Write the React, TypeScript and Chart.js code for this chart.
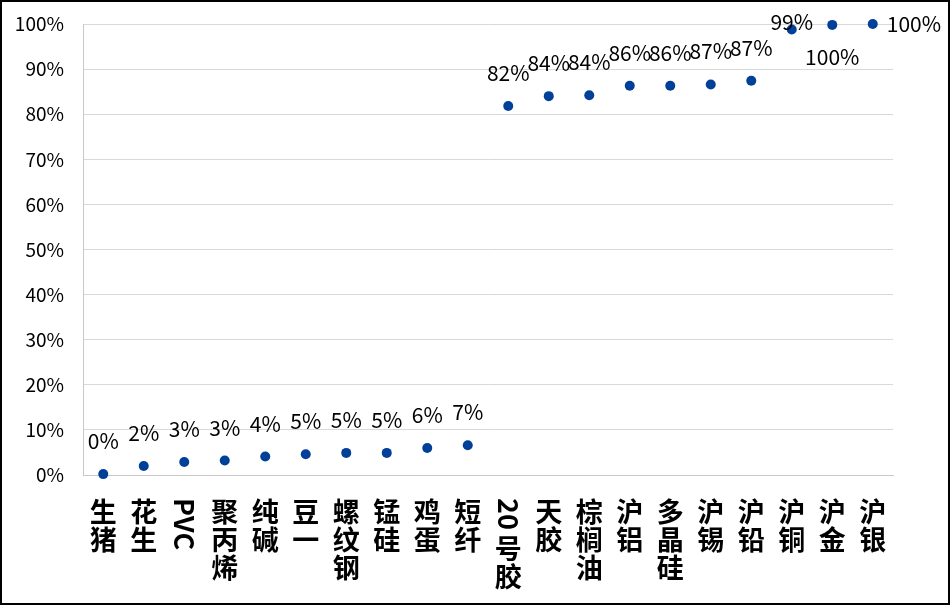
import React, { useEffect, useRef } from 'react';
import { Chart, registerables } from 'chart.js';

Chart.register(...registerables);

const categories = ['生猪', '花生', 'PVC', '聚丙烯', '纯碱', '豆一', '螺纹钢', '锰硅', '鸡蛋', '短纤', '20号胶', '天胶', '棕榈油', '沪铝', '多晶硅', '沪锡', '沪铅', '沪铜', '沪金', '沪银'];
const values = [0.2, 2.0, 2.9, 3.2, 4.1, 4.6, 4.9, 4.9, 6.0, 6.6, 81.8, 84.0, 84.2, 86.3, 86.3, 86.6, 87.4, 98.8, 99.8, 100];
const yMin = 0;
const yMax = 100;
const yStep = 10;

const CJK = '"Noto Sans CJK SC", "Noto Sans", sans-serif';
const POINT_COLOR = '#004098';

// label placement exceptions (where labels would overlap)
const labelPlacement: Record<string, string> = { '沪铜': 'over', '沪金': 'below', '沪银': 'right' };

const xLabelPlugin = {
  id: 'xLabels',
  afterDraw(chart: any) {
    const ctx = chart.ctx;
    const xs = chart.scales.x;
    const LINE = 28;
    ctx.save();
    ctx.fillStyle = '#000';
    ctx.font = `bold 27px ${CJK}`;
    categories.forEach((lab, i) => {
      const cx = xs.getPixelForValue(i);
      let y = chart.chartArea.bottom + 23;
      const segs: string[] = [];
      let run = '';
      for (const ch of lab) {
        if (/[A-Za-z0-9]/.test(ch)) {
          run += ch;
        } else {
          if (run) { segs.push(run); run = ''; }
          segs.push(ch);
        }
      }
      if (run) segs.push(run);
      segs.forEach((s) => {
        if (/^[A-Za-z0-9]+$/.test(s)) {
          const w = ctx.measureText(s).width;
          ctx.save();
          ctx.translate(cx, y + w / 2);
          ctx.rotate(Math.PI / 2);
          ctx.textAlign = 'center';
          ctx.textBaseline = 'middle';
          ctx.fillText(s, 0, 0);
          ctx.restore();
          y += w + 5;
        } else {
          ctx.textAlign = 'center';
          ctx.textBaseline = 'middle';
          ctx.fillText(s, cx, y + LINE / 2);
          y += LINE;
        }
      });
    });
    ctx.restore();
  },
};

const dataLabelPlugin = {
  id: 'dataLabels',
  afterDatasetsDraw(chart: any) {
    const ctx = chart.ctx;
    const meta = chart.getDatasetMeta(0);
    ctx.save();
    ctx.fillStyle = '#000';
    ctx.font = `21px ${CJK}`;
    ctx.textBaseline = 'alphabetic';
    meta.data.forEach((pt: any, i: number) => {
      const text = Math.round(values[i]) + '%';
      const place = labelPlacement[categories[i]] || 'above';
      const { x, y } = pt;
      if (place === 'over') {
        ctx.textAlign = 'center';
        ctx.fillText(text, x, y + 1);
      } else if (place === 'below') {
        ctx.textAlign = 'center';
        ctx.fillText(text, x, y + 40);
      } else if (place === 'right') {
        ctx.textAlign = 'left';
        ctx.fillText(text, x + 14, y + 8);
      } else {
        ctx.textAlign = 'center';
        ctx.fillText(text, x, y - 25);
      }
    });
    ctx.restore();
  },
};

export default function App() {
  const ref = useRef<HTMLCanvasElement | null>(null);
  useEffect(() => {
    if (!ref.current) return;
    const chart = new Chart(ref.current, {
      type: 'line',
      data: {
        labels: categories,
        datasets: [
          {
            data: values,
            showLine: false,
            pointRadius: 5,
            pointHoverRadius: 5,
            pointBackgroundColor: POINT_COLOR,
            pointBorderColor: POINT_COLOR,
            pointBorderWidth: 0,
            clip: false,
          } as any,
        ],
      },
      options: {
        responsive: false,
        animation: false,
        layout: { padding: { top: 24, right: 57, left: 0, bottom: 0 } },
        plugins: { legend: { display: false }, tooltip: { enabled: false } },
        scales: {
          x: {
            type: 'category',
            offset: true,
            grid: { display: false },
            border: { display: true, color: '#c8c8c8', width: 1 },
            ticks: { display: false },
            afterFit: (s: any) => {
              s.height = 130;
              s.paddingLeft = 0;
              s.paddingRight = 0;
              s.paddingTop = 0;
              s.paddingBottom = 0;
            },
          },
          y: {
            min: yMin,
            max: yMax,
            grid: { color: '#d9d9d9', drawTicks: false, lineWidth: 1 },
            border: { display: true, color: '#c8c8c8', width: 1 },
            ticks: {
              stepSize: yStep,
              padding: 19,
              color: '#000',
              font: { family: CJK, size: 19 },
              callback: (v: any) => v + '%',
            },
            afterFit: (s: any) => {
              s.width = 83;
              s.paddingTop = 0;
              s.paddingBottom = 0;
              s.paddingLeft = 0;
              s.paddingRight = 0;
            },
          },
        },
      },
      plugins: [dataLabelPlugin, xLabelPlugin],
    });
    return () => chart.destroy();
  }, []);
  return (
    <div style={{ position: 'fixed', left: 0, top: 0, width: 950, height: 605, background: '#fff' }}>
      <canvas ref={ref} width={950} height={605} style={{ display: 'block', width: 950, height: 605 }} />
      <div style={{ position: 'absolute', left: 0, top: 0, width: 950, height: 605, border: '2px solid #000', boxSizing: 'border-box', pointerEvents: 'none' }} />
    </div>
  );
}
